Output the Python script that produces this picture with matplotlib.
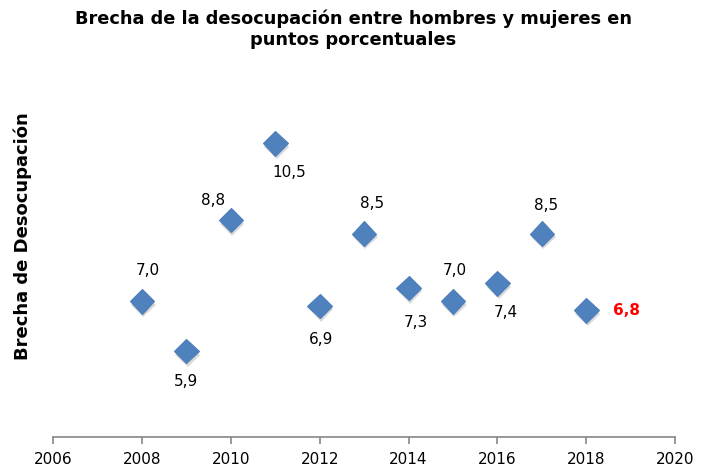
import matplotlib.pyplot as plt
import matplotlib.patheffects as pe

years = [2008, 2009, 2010, 2011, 2012, 2013, 2014, 2015, 2016, 2017, 2018]
brecha = [7.0, 5.9, 8.8, 10.5, 6.9, 8.5, 7.3, 7.0, 7.4, 8.5, 6.8]
labels = ['7,0', '5,9', '8,8', '10,5', '6,9', '8,5', '7,3', '7,0', '7,4', '8,5', '6,8']
x_ticks = [2006, 2008, 2010, 2012, 2014, 2016, 2018, 2020]

# label offsets in points (dx, dy) - placed by hand like in the original
offsets = [(4, 22), (0, -22), (-13, 14), (10, -21), (1, -24), (6, 22),
           (5, -25), (1, 22), (6, -21), (3, 20), (29, 0)]

fig = plt.figure(figsize=(7.07, 4.75), dpi=100)
ax = fig.add_axes([0.075, 0.08, 0.88, 0.761])

# soft drop shadow under the diamonds
shadow = [pe.SimplePatchShadow(offset=(1, -2.5), alpha=0.15, shadow_rgbFace='black'), pe.Normal()]
ax.plot(years, brecha, linestyle='none', marker='D', markersize=12.5,
        markerfacecolor='#4F81BD', markeredgecolor='#4A7EBB', markeredgewidth=0.8,
        path_effects=shadow, zorder=3)

for i, (x, y) in enumerate(zip(years, brecha)):
    last = i == len(years) - 1
    ax.annotate(labels[i], (x, y), xytext=offsets[i], textcoords='offset points',
                ha='center', va='center', fontsize=11,
                color='red' if last else 'black',
                fontweight='bold' if last else 'normal')

ax.set_xlim(2006, 2020)
ax.set_ylim(4, 12)
ax.set_xticks(x_ticks)
ax.set_yticks([])
for side in ['top', 'right', 'left']:
    ax.spines[side].set_visible(False)
ax.spines['bottom'].set_color('#868686')
ax.spines['bottom'].set_linewidth(1.2)
ax.tick_params(axis='x', colors='#868686', length=5, width=1.2, labelsize=11,
               labelcolor='black', pad=6)

ax.set_ylabel('Brecha de Desocupación', fontsize=13, fontweight='bold')
ax.yaxis.set_label_coords(-0.034, 0.555)
fig.suptitle('Brecha de la desocupación entre hombres y mujeres en\npuntos porcentuales',
             fontsize=12.8, fontweight='bold', y=0.98)

fig.savefig('out.png', dpi=100)
